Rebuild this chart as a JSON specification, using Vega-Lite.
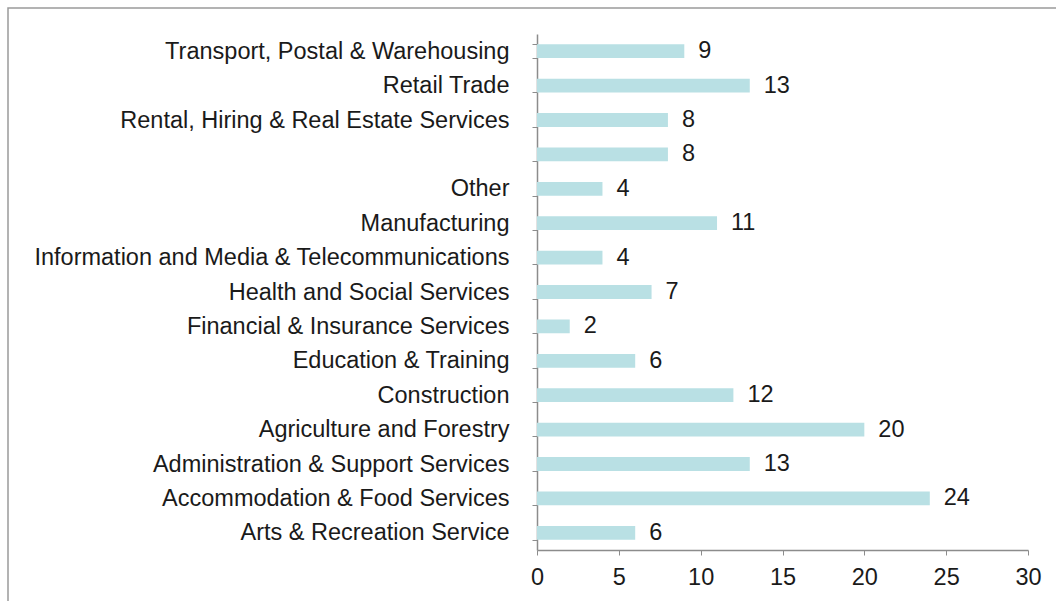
{
  "$schema": "https://vega.github.io/schema/vega-lite/v6.json",
  "autosize": "none",
  "padding": {"left": 8, "top": 8, "right": 0, "bottom": 0},
  "width": 1060,
  "height": 600,
  "background": "white",
  "config": {
    "view": {"stroke": "#9a9a9a", "strokeWidth": 1.5},
    "font": "Liberation Sans"
  },
  "data": {
    "values": [
      {"industry": "Transport, Postal & Warehousing", "count": 9},
      {"industry": "Retail Trade", "count": 13},
      {"industry": "Rental, Hiring & Real Estate Services", "count": 8},
      {"industry": " ", "count": 8},
      {"industry": "Other", "count": 4},
      {"industry": "Manufacturing", "count": 11},
      {"industry": "Information and Media & Telecommunications", "count": 4},
      {"industry": "Health and Social Services", "count": 7},
      {"industry": "Financial & Insurance Services", "count": 2},
      {"industry": "Education & Training", "count": 6},
      {"industry": "Construction", "count": 12},
      {"industry": "Agriculture and Forestry", "count": 20},
      {"industry": "Administration & Support Services", "count": 13},
      {"industry": "Accommodation & Food Services", "count": 24},
      {"industry": "Arts & Recreation Service", "count": 6}
    ]
  },
  "encoding": {
    "y": {
      "field": "industry",
      "type": "nominal",
      "sort": null,
      "scale": {"range": [26, 542], "paddingInner": 0.6, "paddingOuter": 0.3},
      "axis": {
        "title": null,
        "offset": -529,
        "tickBand": "extent",
        "tickSize": 5,
        "tickColor": "#8c8c8c",
        "domainColor": "#8c8c8c",
        "domainWidth": 1.5,
        "labelFontSize": 23.5,
        "labelColor": "#1a1a1a",
        "labelPadding": 23,
        "labelLimit": 0,
        "grid": false
      }
    },
    "x": {
      "field": "count",
      "type": "quantitative",
      "scale": {"domain": [0, 30], "range": [529, 1020], "nice": false, "zero": true},
      "axis": {
        "title": null,
        "offset": -58,
        "values": [0, 5, 10, 15, 20, 25, 30],
        "tickSize": 5,
        "tickColor": "#8c8c8c",
        "domainColor": "#8c8c8c",
        "domainWidth": 1.5,
        "labelFontSize": 23.5,
        "labelColor": "#1a1a1a",
        "labelPadding": 10,
        "labelFlush": false,
        "grid": false
      }
    }
  },
  "layer": [
    {"mark": {"type": "bar", "color": "#b9e0e4"}},
    {
      "mark": {"type": "text", "align": "left", "baseline": "middle", "dx": 14, "fontSize": 23.5, "color": "#1a1a1a"},
      "encoding": {"text": {"field": "count", "type": "quantitative"}}
    }
  ]
}
